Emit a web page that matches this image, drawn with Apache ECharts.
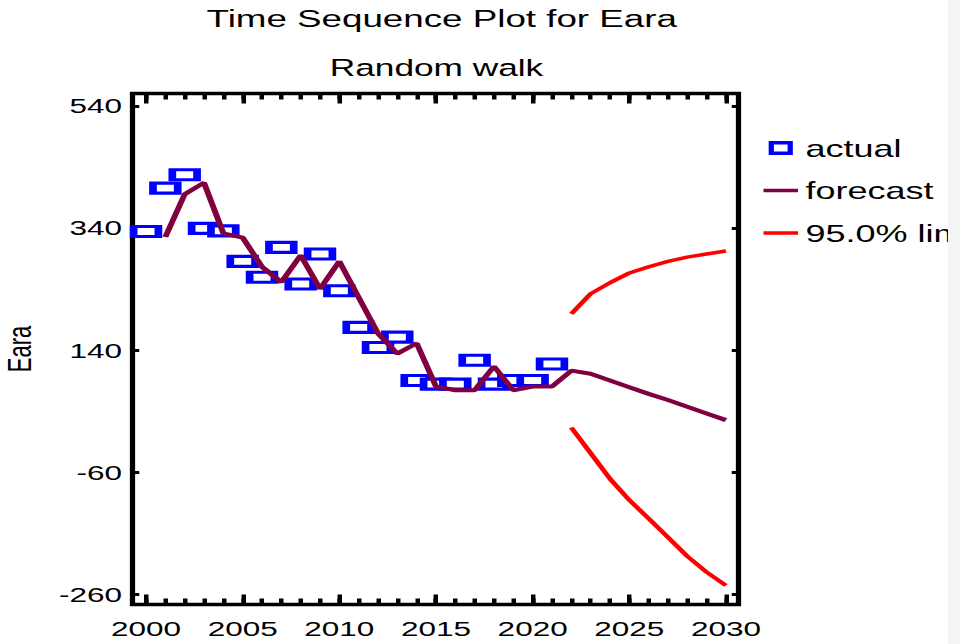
<!DOCTYPE html>
<html><head><meta charset="utf-8">
<script src="https://cdn.jsdelivr.net/npm/echarts@6/dist/echarts.min.js"></script>
<style>
html,body{margin:0;padding:0;background:#fff;overflow:hidden;width:960px;height:644px}
#wrap{position:absolute;left:0;top:0;width:640px;height:644px;transform:scaleX(1.5);transform-origin:0 0}
#chart{width:640px;height:644px}
#edge{position:absolute;left:948px;top:0;width:12px;height:644px;background:#f3f4f6}
</style></head><body>
<div id="wrap"><div id="chart"></div></div>
<div id="edge"></div>
<script>
// ---- data ----
const actualYears = [2000,2001,2002,2003,2004,2005,2006,2007,2008,2009,2010,2011,2012,2013,2014,2015,2016,2017,2018,2019,2020,2021];
const actual      = [335, 406, 428, 340, 336, 286, 260, 309, 249, 298, 238, 178, 145, 162, 91, 85, 85, 124, 85, 91, 91, 118];
const forecastYears = [2001,2002,2003,2004,2005,2006,2007,2008,2009,2010,2011,2012,2013,2014,2015,2016,2017,2018,2019,2020,2021,2022,2023,2024,2025,2026,2027,2028,2029,2030];
const forecast      = [326, 396, 415, 332, 325, 277, 252, 296, 241, 286, 227, 168, 135, 152, 81, 75, 75, 114, 75, 81, 81, 107, 102, 91, 80, 69, 59, 48, 37, 26];
const limitYears = [2022,2023,2024,2025,2026,2027,2028,2029,2030];
const upperLimit = [200, 233, 251, 267, 277, 286, 293, 298, 303];
const lowerLimit = [14, -28, -70, -105, -135, -166, -197, -223, -245];
const xLabelTicks = [2000,2005,2010,2015,2020,2025,2030];
const xYearTicks  = [2000,2001,2002,2003,2004,2005,2006,2007,2008,2009,2010,2011,2012,2013,2014,2015,2016,2017,2018,2019,2020,2021,2022,2023,2024,2025,2026,2027,2028,2029,2030];
const yLabelTicks = [-260,-60,140,340,540];
const titleText = 'Time Sequence Plot for Eara';
const subtitleText = 'Random walk';
const yName = 'Eara';

// ---- layout / style ----
const FONT = '"Liberation Sans", Arial, Helvetica, sans-serif';
const XMIN = 1999.3, XMAX = 2030.65, YMIN = -276, YMAX = 561;
const gridBox = {left: 88.33, right: 147.67, top: 93.5, bottom: 39.5, containLabel: false, outerBoundsMode: 'none'};
const tickStyle = {color: '#000', width: 3};
const C_ACT = '#0000ff', C_FC = '#800040', C_LIM = '#ff0000';

function xAx(grid, pos, ticks, len, labels) {
  return {
    type: 'value', gridIndex: grid, position: pos, min: XMIN, max: XMAX,
    axisLine: {show: false, onZero: false}, splitLine: {show: false},
    axisTick: {show: true, inside: true, length: len, customValues: ticks, lineStyle: tickStyle},
    axisLabel: labels ? {customValues: xLabelTicks, margin: 14, fontSize: 21, color: '#000', fontFamily: FONT,
                         formatter: v => String(Math.round(v))} : {show: false}
  };
}
function yAx(grid, pos, labels, show) {
  const a = {
    type: 'value', gridIndex: grid, position: pos, min: YMIN, max: YMAX, show: show,
    axisLine: {show: false, onZero: false}, splitLine: {show: false},
    axisTick: {show: true, inside: true, length: 4.5, customValues: yLabelTicks, lineStyle: tickStyle},
    axisLabel: labels ? {customValues: yLabelTicks, margin: 7, fontSize: 21, color: '#000', fontFamily: FONT,
                         padding: [0, 0, 6, 0], formatter: v => String(Math.round(v))} : {show: false}
  };
  if (labels) {
    a.name = yName; a.nameLocation = 'middle'; a.nameGap = 64;
    a.nameTextStyle = {fontSize: 22, color: '#000', fontFamily: FONT};
  }
  return a;
}

const chart = echarts.init(document.getElementById('chart'), null, {renderer: 'svg'});
chart.setOption({
  animation: false,
  backgroundColor: '#fff',
  graphic: [
    {type: 'text', x: 294.5, y: 19, style: {text: titleText, font: '24.5px ' + FONT, fill: '#000', align: 'center', verticalAlign: 'middle'}},
    {type: 'text', x: 291, y: 68, style: {text: subtitleText, font: '23.5px ' + FONT, fill: '#000', align: 'center', verticalAlign: 'middle'}}
  ],
  grid: [
    Object.assign({show: true, borderColor: '#000', borderWidth: 3.5, backgroundColor: '#fff'}, gridBox),
    Object.assign({show: false}, gridBox)
  ],
  xAxis: [
    xAx(0, 'bottom', xLabelTicks, 10, true),
    xAx(0, 'top', xLabelTicks, 10, false),
    xAx(1, 'bottom', xYearTicks, 6, false),
    xAx(1, 'top', xYearTicks, 6, false)
  ],
  yAxis: [
    yAx(0, 'left', true, true),
    yAx(0, 'right', false, true),
    yAx(1, 'left', false, false)
  ],
  legend: {
    orient: 'vertical', left: 504, top: 131, itemWidth: 23, itemHeight: 10.5, itemGap: 18.5,
    selectedMode: false,
    textStyle: {fontSize: 24, color: '#000', fontFamily: FONT},
    data: [
      {name: 'actual', icon: 'path://M0,0L12,0L12,10L0,10Z', itemStyle: {color: '#fff', borderColor: C_ACT, borderWidth: 3.5}},
      {name: 'forecast', icon: 'path://M0,0L46,0L46,7L0,7Z', itemStyle: {color: C_FC, borderWidth: 0}},
      {name: '95.0% limits', icon: 'path://M0,0L46,0L46,7L0,7Z', itemStyle: {color: C_LIM, borderWidth: 0}}
    ]
  },
  series: [
    {type: 'scatter', name: 'actual', xAxisIndex: 0, yAxisIndex: 0, symbol: 'rect', symbolSize: [16.5, 10],
     itemStyle: {color: '#fff', borderColor: C_ACT, borderWidth: 4, opacity: 1},
     data: actualYears.map((y, i) => [y, actual[i]])},
    {type: 'line', name: 'forecast', xAxisIndex: 0, yAxisIndex: 0, symbol: 'none',
     lineStyle: {color: C_FC, width: 4}, itemStyle: {color: C_FC},
     data: forecastYears.map((y, i) => [y, forecast[i]])},
    {type: 'line', name: '95.0% limits', xAxisIndex: 0, yAxisIndex: 0, symbol: 'none',
     lineStyle: {color: C_LIM, width: 3.5}, itemStyle: {color: C_LIM},
     data: limitYears.map((y, i) => [y, upperLimit[i]])},
    {type: 'line', name: '95.0% limits', xAxisIndex: 0, yAxisIndex: 0, symbol: 'none',
     lineStyle: {color: C_LIM, width: 3.5}, itemStyle: {color: C_LIM},
     data: limitYears.map((y, i) => [y, lowerLimit[i]])}
  ]
});
</script>
</body></html>
